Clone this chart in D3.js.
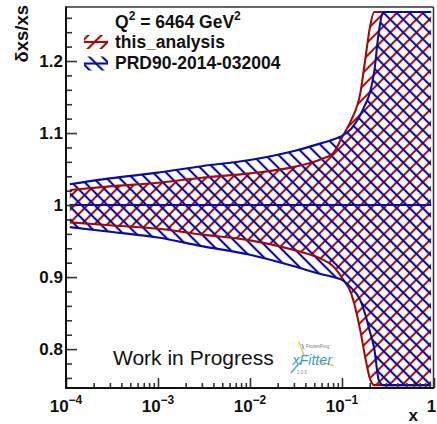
<!DOCTYPE html>
<html>
<head>
<meta charset="utf-8">
<script src="https://cdn.jsdelivr.net/npm/d3@7"></script>
<style>
  html, body { margin: 0; padding: 0; background: #fff; }
  svg { display: block; font-family: "Liberation Sans", Arial, Helvetica, sans-serif; }
</style>
</head>
<body>
<svg id="chart" width="437" height="424"></svg>
<script>
// Relative cross-section uncertainty bands, Q^2 = 6464 GeV^2
const xValues   = [1.1e-4, 3e-4, 1e-3, 3e-3, 1e-2, 3e-2, 0.06, 0.08, 0.1, 0.126, 0.158, 0.178, 0.2, 0.224, 0.251, 0.282, 0.316, 0.4, 0.6, 0.93];
const thisUpper = [1.021, 1.026, 1.031, 1.038, 1.044, 1.053, 1.064, 1.072, 1.094, 1.118, 1.155, 1.200, 1.245, 1.30, 1.40, 1.50, 1.60, 1.8, 2.2, 2.8];
const thisLower = [0.976, 0.972, 0.967, 0.959, 0.951, 0.9375, 0.925, 0.915, 0.899, 0.877, 0.826, 0.790, 0.760, 0.72, 0.65, 0.55, 0.45, 0.3, 0.1, -0.2];
const prdUpper  = [1.029, 1.037, 1.045, 1.054, 1.0625, 1.075, 1.086, 1.091, 1.096, 1.106, 1.125, 1.139, 1.155, 1.185, 1.240, 1.31, 1.40, 1.55, 1.8, 2.2];
const prdLower  = [0.9694, 0.963, 0.955, 0.943, 0.931, 0.915, 0.904, 0.900, 0.896, 0.885, 0.868, 0.849, 0.825, 0.801, 0.757, 0.65, 0.6, 0.45, 0.2, -0.2];
const centralValue = 1;

const yMajorTicks = [0.8, 0.9, 1, 1.1, 1.2];
const yTickLabels = ["0.8", "0.9", "1", "1.1", "1.2"];
const xMajorTicks = [1e-4, 1e-3, 1e-2, 1e-1, 1];
const xLabelBase  = ["10", "10", "10", "10", "1"];
const xLabelExp   = ["\u22124", "\u22123", "\u22122", "\u22121", ""];

const legendTitleParts = [["Q", ""], ["2", "sup"], [" = 6464 GeV", ""], ["2", "sup"]];
const seriesNames = ["this_analysis", "PRD90-2014-032004"];
const seriesColors = ["#9e0c0c", "#0c0c9e"];

const svg = d3.select("#chart");
const frame = { left: 66, right: 433.5, top: 7, bottom: 388 };

const x = d3.scaleLog().domain([1e-4, 1]).range([66, 434]);
const y = d3.scaleLinear().domain([0.746, 1.275]).range([388, 7]);
const bandMin = 0.75, bandMax = 1.268;
const clampV = v => Math.max(bandMin, Math.min(bandMax, v));

// hatch patterns: "/" for this_analysis, "\" for PRD90
const defs = svg.append("defs");
function hatch(id, color, angle) {
  const p = defs.append("pattern")
    .attr("id", id)
    .attr("patternUnits", "userSpaceOnUse")
    .attr("width", 9.2).attr("height", 9.2)
    .attr("patternTransform", `rotate(${angle})`);
  p.append("line")
    .attr("x1", 4.6).attr("y1", -1).attr("x2", 4.6).attr("y2", 10.2)
    .attr("stroke", color).attr("stroke-width", 2.1);
}
hatch("hatchThis", seriesColors[0], 45);
hatch("hatchPrd", seriesColors[1], -45);

defs.append("clipPath").attr("id", "plotClip")
  .append("rect")
  .attr("x", frame.left).attr("y", frame.top)
  .attr("width", frame.right - frame.left).attr("height", frame.bottom - frame.top);

const bands = [
  { up: thisUpper, lo: thisLower, fill: "url(#hatchThis)", color: seriesColors[0] },
  { up: prdUpper,  lo: prdLower,  fill: "url(#hatchPrd)",  color: seriesColors[1] }
];
bands.forEach(b => {
  b.rows = xValues.map((xv, i) => ({ x: xv, up: clampV(b.up[i]), lo: clampV(b.lo[i]) }));
});

const plot = svg.append("g").attr("clip-path", "url(#plotClip)");

const area = d3.area()
  .x(d => x(d.x)).y0(d => y(d.lo)).y1(d => y(d.up))
  .curve(d3.curveMonotoneX);
const upperLine = d3.line().x(d => x(d.x)).y(d => y(d.up)).curve(d3.curveMonotoneX);
const lowerLine = d3.line().x(d => x(d.x)).y(d => y(d.lo)).curve(d3.curveMonotoneX);
const centreLine = d3.line().x(d => x(d.x)).y(() => y(centralValue));

bands.forEach(b => {
  plot.append("path").datum(b.rows).attr("d", area).attr("fill", b.fill).attr("stroke", "none");
});
bands.forEach(b => {
  [upperLine, lowerLine, centreLine].forEach(gen => {
    plot.append("path").datum(b.rows).attr("d", gen)
      .attr("fill", "none").attr("stroke", b.color).attr("stroke-width", 2.1);
  });
});

// axes with inward ticks
const tickColor = "#333";
const yMinor = d3.range(38, 64).filter(i => i % 5 !== 0).map(i => i * 0.02);
const xMinor = [];
[-4, -3, -2, -1].forEach(d => { for (let k = 2; k <= 9; k++) xMinor.push(k * Math.pow(10, d)); });

function styleAxis(g) {
  g.select(".domain").remove();
  g.selectAll(".tick line").attr("stroke", tickColor).attr("stroke-width", 1.6);
  g.selectAll(".tick text").remove();
}
svg.append("g").attr("transform", `translate(${frame.left},0)`)
  .call(d3.axisLeft(y).tickValues(yMajorTicks).tickSize(-11).tickSizeOuter(0)).call(styleAxis);
svg.append("g").attr("transform", `translate(${frame.left},0)`)
  .call(d3.axisLeft(y).tickValues(yMinor).tickSize(-6).tickSizeOuter(0)).call(styleAxis);
svg.append("g").attr("transform", `translate(0,${frame.bottom})`)
  .call(d3.axisBottom(x).tickValues(xMajorTicks).tickSize(-10).tickSizeOuter(0)).call(styleAxis);
svg.append("g").attr("transform", `translate(0,${frame.bottom})`)
  .call(d3.axisBottom(x).tickValues(xMinor).tickSize(-5).tickSizeOuter(0)).call(styleAxis);

// frame
svg.append("line").attr("x1", frame.left).attr("x2", frame.right).attr("y1", frame.top).attr("y2", frame.top)
  .attr("stroke", "#333").attr("stroke-width", 1.5);
svg.append("line").attr("x1", frame.right).attr("x2", frame.right).attr("y1", frame.top).attr("y2", frame.bottom)
  .attr("stroke", "#333").attr("stroke-width", 1.5);
svg.append("line").attr("x1", frame.left).attr("x2", frame.left).attr("y1", frame.top - 0.75).attr("y2", frame.bottom + 1)
  .attr("stroke", "#111").attr("stroke-width", 2);
svg.append("line").attr("x1", frame.left - 1).attr("x2", frame.right + 0.75).attr("y1", frame.bottom).attr("y2", frame.bottom)
  .attr("stroke", "#111").attr("stroke-width", 2);

// tick labels
svg.append("g").selectAll("text").data(yMajorTicks).join("text")
  .attr("x", 63).attr("y", d => y(d) + 6)
  .attr("text-anchor", "end").attr("font-size", 17).attr("font-weight", "bold").attr("fill", "#111")
  .text((d, i) => yTickLabels[i]);

// the last decade label sits against the right edge of the canvas
const xl = svg.append("g").selectAll("text").data(xMajorTicks).join("text")
  .attr("x", d => Math.min(x(d), 431.5)).attr("y", 411.5)
  .attr("text-anchor", "middle").attr("font-weight", "bold").attr("fill", "#111");
xl.append("tspan").attr("font-size", 17).text((d, i) => xLabelBase[i]);
xl.append("tspan").attr("font-size", 12).attr("dy", -8).text((d, i) => xLabelExp[i]);

// axis titles
svg.append("text").attr("x", 418).attr("y", 420.5).attr("text-anchor", "end")
  .attr("font-size", 17).attr("font-weight", "bold").attr("fill", "#111").text("x");
svg.append("text").attr("transform", "translate(28,5) rotate(-90)").attr("text-anchor", "end")
  .attr("font-size", 18.5).attr("font-weight", "bold").attr("fill", "#111").text("\u03b4xs/xs");

// legend
const lt = svg.append("text").attr("x", 115).attr("y", 27.5)
  .attr("font-size", 17.5).attr("font-weight", "bold").attr("fill", "#111");
legendTitleParts.forEach(([t, kind], i) => {
  const prev = i > 0 ? legendTitleParts[i - 1][1] : "";
  const ts = lt.append("tspan").text(t);
  if (kind === "sup") ts.attr("font-size", 12).attr("dy", -8);
  else if (prev === "sup") ts.attr("dy", 8);
});

const legendRows = [47.5, 69];
seriesNames.forEach((name, i) => {
  const cy = legendRows[i] - 5.5;
  svg.append("rect").attr("x", 84).attr("y", cy - 7).attr("width", 24).attr("height", 14)
    .attr("fill", bands[i].fill);
  svg.append("line").attr("x1", 84).attr("x2", 108).attr("y1", cy).attr("y2", cy)
    .attr("stroke", seriesColors[i]).attr("stroke-width", 2.1);
  svg.append("text").attr("x", 115).attr("y", legendRows[i])
    .attr("font-size", 17.5).attr("font-weight", "bold").attr("fill", "#111").text(name);
});

// annotation
svg.append("text").attr("x", 113).attr("y", 364.5)
  .attr("font-size", 21).attr("fill", "#111").text("Work in Progress");

// xFitter badge
const logo = svg.append("g");
logo.append("path").attr("d", "M299,342 L302,350 L304,356").attr("stroke", "#f3c64b").attr("stroke-width", 1.6).attr("fill", "none");
logo.append("path").attr("d", "M318,361 L328,364 L334,366").attr("stroke", "#f3c64b").attr("stroke-width", 1.4).attr("fill", "none");
logo.append("path").attr("d", "M291,373 L296,367 L301,362").attr("stroke", "#4aa6de").attr("stroke-width", 1.4).attr("fill", "none");
logo.append("path").attr("d", "M302,344 L304,349").attr("stroke", "#4aa6de").attr("stroke-width", 1.2).attr("fill", "none");
logo.append("text").attr("x", 306).attr("y", 348).attr("font-size", 4.5).attr("fill", "#777").text("FrozenFrog");
logo.append("text").attr("x", 292.5).attr("y", 364.5).attr("font-size", 14.2).attr("font-style", "italic")
  .attr("fill", "#3d9ad8").text("xFitter");
logo.append("text").attr("x", 297).attr("y", 373.5).attr("font-size", 4.5).attr("fill", "#888").text("2.0.0");
</script>
</body>
</html>
